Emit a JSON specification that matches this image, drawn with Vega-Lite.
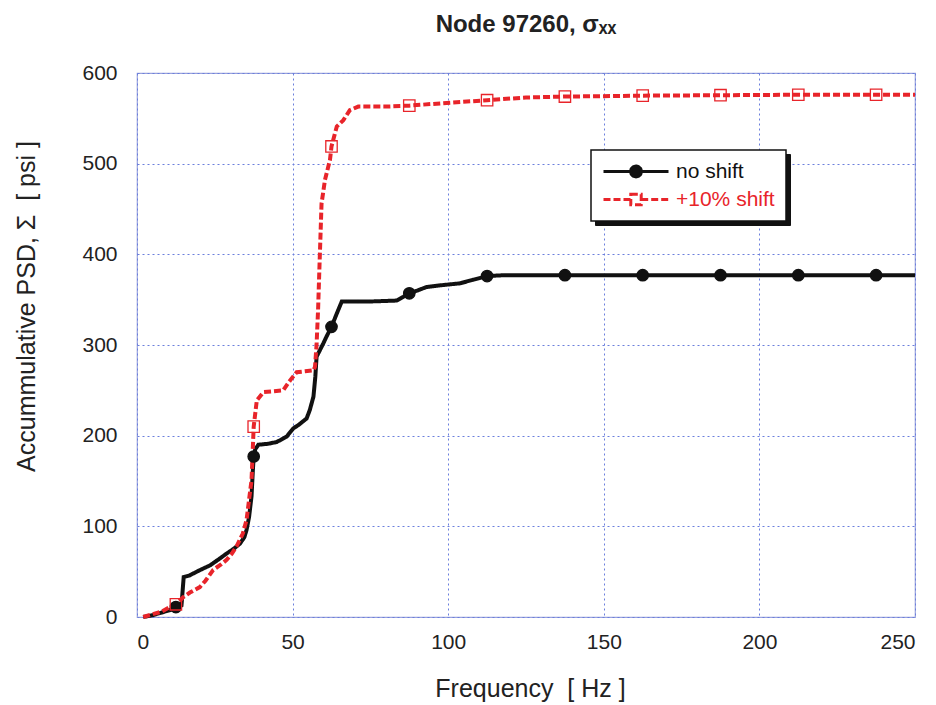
{
  "$schema": "https://vega.github.io/schema/vega-lite/v6.json",
  "autosize": "none",
  "width": 778,
  "height": 544,
  "padding": {"left": 137, "top": 73, "right": 21, "bottom": 88},
  "background": "white",
  "config": {
    "font": "Liberation Sans",
    "view": {"stroke": "#9aa2dc", "strokeWidth": 1.2}
  },
  "title": {
    "text": "Node 97260, σₓₓ",
    "font": "Liberation Sans",
    "fontSize": 24,
    "fontWeight": "bold",
    "color": "#222222",
    "anchor": "middle",
    "offset": 25
  },
  "datasets": {
    "curve": [
      {"f": 2, "v": 0, "series": "no shift"},
      {"f": 5, "v": 2, "series": "no shift"},
      {"f": 8, "v": 5, "series": "no shift"},
      {"f": 11, "v": 8, "series": "no shift"},
      {"f": 12.5, "v": 11, "series": "no shift"},
      {"f": 14.3, "v": 13, "series": "no shift"},
      {"f": 15, "v": 44, "series": "no shift"},
      {"f": 17, "v": 46, "series": "no shift"},
      {"f": 19.2, "v": 50, "series": "no shift"},
      {"f": 21, "v": 53, "series": "no shift"},
      {"f": 23.5, "v": 57, "series": "no shift"},
      {"f": 26, "v": 63, "series": "no shift"},
      {"f": 28.8, "v": 70, "series": "no shift"},
      {"f": 31, "v": 75, "series": "no shift"},
      {"f": 33.1, "v": 81, "series": "no shift"},
      {"f": 34.5, "v": 88, "series": "no shift"},
      {"f": 35.2, "v": 96, "series": "no shift"},
      {"f": 36, "v": 110, "series": "no shift"},
      {"f": 36.8, "v": 133, "series": "no shift"},
      {"f": 37.2, "v": 160, "series": "no shift"},
      {"f": 37.5, "v": 177, "series": "no shift"},
      {"f": 38, "v": 185, "series": "no shift"},
      {"f": 39, "v": 190, "series": "no shift"},
      {"f": 42, "v": 191, "series": "no shift"},
      {"f": 44.9, "v": 193, "series": "no shift"},
      {"f": 48.1, "v": 199, "series": "no shift"},
      {"f": 50.2, "v": 208, "series": "no shift"},
      {"f": 52, "v": 212, "series": "no shift"},
      {"f": 54.5, "v": 219, "series": "no shift"},
      {"f": 55.5, "v": 228, "series": "no shift"},
      {"f": 56.7, "v": 243, "series": "no shift"},
      {"f": 57.3, "v": 265, "series": "no shift"},
      {"f": 57.7, "v": 287, "series": "no shift"},
      {"f": 59.9, "v": 302, "series": "no shift"},
      {"f": 61, "v": 310, "series": "no shift"},
      {"f": 62.5, "v": 320, "series": "no shift"},
      {"f": 64, "v": 333, "series": "no shift"},
      {"f": 65.8, "v": 348, "series": "no shift"},
      {"f": 75, "v": 348, "series": "no shift"},
      {"f": 83.4, "v": 349, "series": "no shift"},
      {"f": 87.5, "v": 357, "series": "no shift"},
      {"f": 90, "v": 360, "series": "no shift"},
      {"f": 93.1, "v": 364, "series": "no shift"},
      {"f": 98, "v": 366, "series": "no shift"},
      {"f": 103.8, "v": 368, "series": "no shift"},
      {"f": 108, "v": 372, "series": "no shift"},
      {"f": 112.5, "v": 376, "series": "no shift"},
      {"f": 118, "v": 377, "series": "no shift"},
      {"f": 250, "v": 377, "series": "no shift"},
      {"f": 2, "v": 0, "series": "+10% shift"},
      {"f": 5, "v": 3, "series": "+10% shift"},
      {"f": 8, "v": 6, "series": "+10% shift"},
      {"f": 10.6, "v": 11, "series": "+10% shift"},
      {"f": 12.5, "v": 14, "series": "+10% shift"},
      {"f": 14.9, "v": 22, "series": "+10% shift"},
      {"f": 17, "v": 27, "series": "+10% shift"},
      {"f": 20.2, "v": 33, "series": "+10% shift"},
      {"f": 22, "v": 40, "series": "+10% shift"},
      {"f": 24.5, "v": 52, "series": "+10% shift"},
      {"f": 27, "v": 58, "series": "+10% shift"},
      {"f": 28.8, "v": 63, "series": "+10% shift"},
      {"f": 30.5, "v": 70, "series": "+10% shift"},
      {"f": 32, "v": 78, "series": "+10% shift"},
      {"f": 34, "v": 92, "series": "+10% shift"},
      {"f": 35.2, "v": 107, "series": "+10% shift"},
      {"f": 36.8, "v": 151, "series": "+10% shift"},
      {"f": 37.5, "v": 210, "series": "+10% shift"},
      {"f": 38.5, "v": 239, "series": "+10% shift"},
      {"f": 40.6, "v": 248, "series": "+10% shift"},
      {"f": 44, "v": 249, "series": "+10% shift"},
      {"f": 47, "v": 250, "series": "+10% shift"},
      {"f": 49.2, "v": 261, "series": "+10% shift"},
      {"f": 51.3, "v": 270, "series": "+10% shift"},
      {"f": 54, "v": 271, "series": "+10% shift"},
      {"f": 56.7, "v": 272, "series": "+10% shift"},
      {"f": 57.2, "v": 276, "series": "+10% shift"},
      {"f": 57.7, "v": 300, "series": "+10% shift"},
      {"f": 58.2, "v": 340, "series": "+10% shift"},
      {"f": 58.6, "v": 383, "series": "+10% shift"},
      {"f": 59.3, "v": 456, "series": "+10% shift"},
      {"f": 60.4, "v": 482, "series": "+10% shift"},
      {"f": 62, "v": 504, "series": "+10% shift"},
      {"f": 62.5, "v": 519, "series": "+10% shift"},
      {"f": 64.2, "v": 541, "series": "+10% shift"},
      {"f": 66.3, "v": 548, "series": "+10% shift"},
      {"f": 68.4, "v": 559, "series": "+10% shift"},
      {"f": 71.1, "v": 563, "series": "+10% shift"},
      {"f": 80, "v": 563, "series": "+10% shift"},
      {"f": 87.5, "v": 564, "series": "+10% shift"},
      {"f": 99.5, "v": 567, "series": "+10% shift"},
      {"f": 112.5, "v": 570, "series": "+10% shift"},
      {"f": 125, "v": 573, "series": "+10% shift"},
      {"f": 137.5, "v": 574, "series": "+10% shift"},
      {"f": 162.5, "v": 575, "series": "+10% shift"},
      {"f": 187.5, "v": 575.5, "series": "+10% shift"},
      {"f": 212.5, "v": 576, "series": "+10% shift"},
      {"f": 237.5, "v": 576, "series": "+10% shift"},
      {"f": 250, "v": 576, "series": "+10% shift"}
    ],
    "markers": [
      {"f": 12.5, "v": 11, "series": "no shift"},
      {"f": 37.5, "v": 177, "series": "no shift"},
      {"f": 62.5, "v": 320, "series": "no shift"},
      {"f": 87.5, "v": 357, "series": "no shift"},
      {"f": 112.5, "v": 376, "series": "no shift"},
      {"f": 137.5, "v": 377, "series": "no shift"},
      {"f": 162.5, "v": 377, "series": "no shift"},
      {"f": 187.5, "v": 377, "series": "no shift"},
      {"f": 212.5, "v": 377, "series": "no shift"},
      {"f": 237.5, "v": 377, "series": "no shift"},
      {"f": 12.5, "v": 14, "series": "+10% shift"},
      {"f": 37.5, "v": 210, "series": "+10% shift"},
      {"f": 62.5, "v": 519, "series": "+10% shift"},
      {"f": 87.5, "v": 564, "series": "+10% shift"},
      {"f": 112.5, "v": 570, "series": "+10% shift"},
      {"f": 137.5, "v": 574, "series": "+10% shift"},
      {"f": 162.5, "v": 575, "series": "+10% shift"},
      {"f": 187.5, "v": 575.5, "series": "+10% shift"},
      {"f": 212.5, "v": 576, "series": "+10% shift"},
      {"f": 237.5, "v": 576, "series": "+10% shift"}
    ]
  },
  "encoding": {
    "x": {
      "field": "f", "type": "quantitative",
      "scale": {"domain": [0, 250], "nice": false},
      "axis": {
        "title": "Frequency\u00a0\u00a0[\u00a0Hz\u00a0]",
        "values": [0, 50, 100, 150, 200, 250],
        "grid": true, "gridColor": "#6b7fdc", "gridDash": [2, 3], "gridWidth": 1,
        "domain": false, "ticks": false,
        "labelFontSize": 21, "labelColor": "#222222", "labelPadding": 14, "labelFont": "Liberation Sans",
        "titleFontSize": 25, "titleFontWeight": "normal", "titleColor": "#222222", "titleFont": "Liberation Sans",
        "titleX": 393, "titleY": 71, "titleAlign": "center", "titleBaseline": "middle"
      }
    },
    "y": {
      "field": "v", "type": "quantitative",
      "scale": {"domain": [0, 600], "nice": false},
      "axis": {
        "title": "Accummulative PSD, Σ\u00a0\u00a0[\u00a0psi\u00a0]",
        "values": [0, 100, 200, 300, 400, 500, 600],
        "grid": true, "gridColor": "#6b7fdc", "gridDash": [2, 3], "gridWidth": 1,
        "domain": false, "ticks": false,
        "labelFontSize": 21, "labelColor": "#222222", "labelPadding": 20, "labelFont": "Liberation Sans",
        "titleFontSize": 25, "titleFontWeight": "normal", "titleColor": "#222222", "titleFont": "Liberation Sans",
        "titleX": -111, "titleY": 233, "titleAlign": "center", "titleBaseline": "middle", "titleAngle": -90
      }
    }
  },
  "layer": [
    {
      "data": {"name": "curve"},
      "mark": {"type": "line", "strokeWidth": 4, "interpolate": "linear"},
      "encoding": {
        "color": {
          "field": "series", "type": "nominal",
          "scale": {"domain": ["no shift", "+10% shift"], "range": ["#111111", "#e8242a"]},
          "legend": {
            "title": null,
            "orient": "none",
            "legendX": 458,
            "legendY": 81,
            "direction": "vertical",
            "fillColor": "#111111",
            "strokeColor": "#111111",
            "padding": 11,
            "cornerRadius": 0,
            "symbolSize": 4225,
            "symbolStrokeWidth": 3,
            "clipHeight": 21,
            "rowPadding": 6,
            "labelFontSize": 21,
            "labelFont": "Liberation Sans",
            "labelOffset": 6,
            "labelLimit": 200,
            "encode": {
              "symbols": {"update": {"opacity": {"value": 0}}},
              "labels": {"update": {"fill": {"value": "#111111"}, "opacity": {"value": 0}}}
            }
          }
        },
        "strokeDash": {
          "field": "series", "type": "nominal",
          "scale": {"domain": ["+10% shift", "no shift"], "range": [[7, 3], [1, 0]]},
          "legend": {
            "title": null,
            "values": ["no shift", "+10% shift"],
            "orient": "none",
            "legendX": 454,
            "legendY": 77,
            "direction": "vertical",
            "fillColor": "white",
            "strokeColor": "#111111",
            "padding": 11,
            "cornerRadius": 0,
            "symbolSize": 4225,
            "symbolStrokeWidth": 3,
            "clipHeight": 21,
            "rowPadding": 6,
            "labelFontSize": 21,
            "labelFont": "Liberation Sans",
            "labelOffset": 6,
            "labelLimit": 200,
            "encode": {
              "legend": {"update": {"strokeWidth": {"value": 1.5}}},
              "symbols": {
                "update": {
                  "shape": {"signal": "datum.value == 'no shift' ? 'M-1,0L-0.17,0M0.17,0L1,0M0.17,0L0.147,0.085L0.085,0.147L0,0.17L-0.085,0.147L-0.147,0.085L-0.17,0L-0.147,-0.085L-0.085,-0.147L0,-0.17L0.085,-0.147L0.147,-0.085Z' : 'M-1,0L-0.16,0M0.16,0L1,0M-0.16,-0.16L0.16,-0.16L0.16,0.16L-0.16,0.16Z'"},
                  "fill": {"signal": "datum.value == 'no shift' ? '#111111' : 'transparent'"},
                  "stroke": {"signal": "datum.value == 'no shift' ? '#111111' : '#e8242a'"},
                  "strokeDash": {"signal": "datum.value == 'no shift' ? [1,0] : [5,2]"},
                  "strokeWidth": {"value": 3},
                  "opacity": {"value": 1}
                }
              },
              "labels": {
                "update": {
                  "fill": {"signal": "datum.value == 'no shift' ? '#111111' : '#e8242a'"}
                }
              }
            }
          }
        }
      }
    },
    {
      "data": {"name": "markers"},
      "mark": {"type": "point", "filled": false, "size": 130, "strokeWidth": 1.3, "opacity": 1},
      "encoding": {
        "color": {"field": "series", "type": "nominal"},
        "shape": {
          "field": "series", "type": "nominal",
          "scale": {"domain": ["no shift", "+10% shift"], "range": ["circle", "square"]},
          "legend": null
        },
        "fill": {
          "field": "series", "type": "nominal",
          "scale": {"domain": ["no shift", "+10% shift"], "range": ["#111111", "transparent"]},
          "legend": null
        }
      }
    }
  ]
}
